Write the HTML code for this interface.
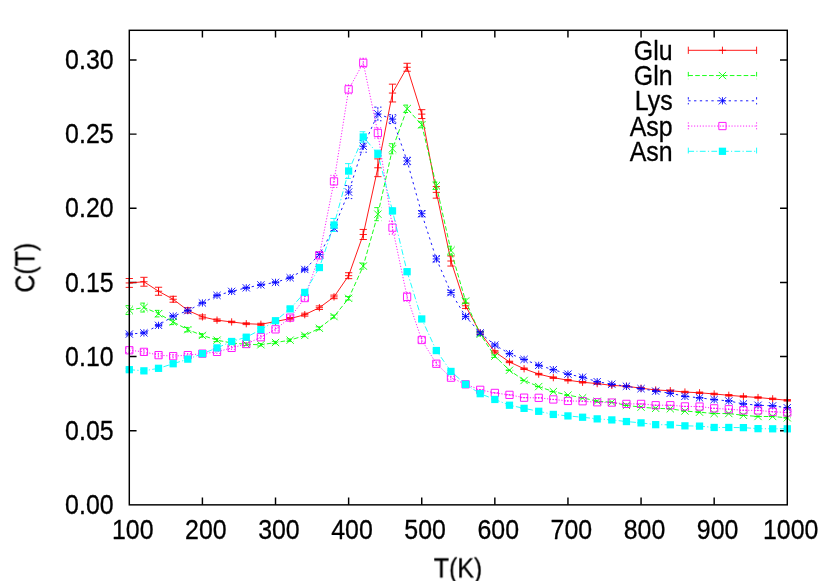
<!DOCTYPE html>
<html><head><meta charset="utf-8"><title>C(T)</title>
<style>html,body{margin:0;padding:0;background:#fff;}body{width:830px;height:581px;position:relative;overflow:hidden;font-family:"Liberation Sans",sans-serif;}</style>
</head><body>
<svg width="830" height="581" viewBox="0 0 830 581" style="display:block;position:absolute;left:0;top:0;will-change:transform">
<rect width="830" height="581" fill="#fff"/>
<g font-family="Liberation Sans, sans-serif" font-size="27" fill="#000" stroke="#000" stroke-width="0.3" stroke-linejoin="round" style="filter:grayscale(1)">
<text transform="translate(113.60 514.05) scale(0.923 1)" text-anchor="end">0.00</text>
<text transform="translate(113.60 439.90) scale(0.923 1)" text-anchor="end">0.05</text>
<text transform="translate(113.60 365.75) scale(0.923 1)" text-anchor="end">0.10</text>
<text transform="translate(113.60 291.60) scale(0.923 1)" text-anchor="end">0.15</text>
<text transform="translate(113.60 217.46) scale(0.923 1)" text-anchor="end">0.20</text>
<text transform="translate(113.60 143.31) scale(0.923 1)" text-anchor="end">0.25</text>
<text transform="translate(113.60 69.16) scale(0.923 1)" text-anchor="end">0.30</text>
<text transform="translate(132.70 539.20) scale(0.923 1)" text-anchor="middle">100</text>
<text transform="translate(205.81 539.20) scale(0.923 1)" text-anchor="middle">200</text>
<text transform="translate(278.92 539.20) scale(0.923 1)" text-anchor="middle">300</text>
<text transform="translate(352.03 539.20) scale(0.923 1)" text-anchor="middle">400</text>
<text transform="translate(425.14 539.20) scale(0.923 1)" text-anchor="middle">500</text>
<text transform="translate(498.24 539.20) scale(0.923 1)" text-anchor="middle">600</text>
<text transform="translate(571.35 539.20) scale(0.923 1)" text-anchor="middle">700</text>
<text transform="translate(644.46 539.20) scale(0.923 1)" text-anchor="middle">800</text>
<text transform="translate(717.57 539.20) scale(0.923 1)" text-anchor="middle">900</text>
<text transform="translate(790.68 539.20) scale(0.923 1)" text-anchor="middle">1000</text>
<text transform="translate(458.00 577.40) scale(0.923 1)" text-anchor="middle">T(K)</text>
<text transform="translate(34.40 267.70) rotate(-90) scale(0.923 1)" text-anchor="middle">C(T)</text>
<text transform="translate(672.60 59.60) scale(0.923 1)" text-anchor="end">Glu</text>
<text transform="translate(672.60 85.00) scale(0.923 1)" text-anchor="end">Gln</text>
<text transform="translate(672.60 110.40) scale(0.923 1)" text-anchor="end">Lys</text>
<text transform="translate(672.60 135.80) scale(0.923 1)" text-anchor="end">Asp</text>
<text transform="translate(672.60 161.20) scale(0.923 1)" text-anchor="end">Asn</text>
</g>
<path d="M129.3 430.70h7.26M787.28 430.70h-7.26M129.3 356.55h7.26M787.28 356.55h-7.26M129.3 282.40h7.26M787.28 282.40h-7.26M129.3 208.26h7.26M787.28 208.26h-7.26M129.3 134.11h7.26M787.28 134.11h-7.26M129.3 59.96h7.26M787.28 59.96h-7.26M202.41 504.85v-7.26M202.41 30.3v7.26M275.52 504.85v-7.26M275.52 30.3v7.26M348.63 504.85v-7.26M348.63 30.3v7.26M421.74 504.85v-7.26M421.74 30.3v7.26M494.84 504.85v-7.26M494.84 30.3v7.26M567.95 504.85v-7.26M567.95 30.3v7.26M641.06 504.85v-7.26M641.06 30.3v7.26M714.17 504.85v-7.26M714.17 30.3v7.26" stroke="#000" stroke-width="1.45" fill="none"/>
<path d="M688.3 50.30H756.6M688.3 46.67V53.93M756.6 46.67V53.93" fill="none" stroke="#ff0000" stroke-width="0.9"/>
<path d="M718.82 50.30H726.08M722.45 46.67V53.93" fill="none" stroke="#ff0000" stroke-width="0.9"/>
<path d="M688.3 75.55H756.6M688.3 71.92V79.18M756.6 71.92V79.18" fill="none" stroke="#00ff00" stroke-width="0.9" stroke-dasharray="4.61 2.31"/>
<path d="M718.82 71.92L726.08 79.18M718.82 79.18L726.08 71.92" fill="none" stroke="#00ff00" stroke-width="0.9"/>
<path d="M688.3 100.80H756.6M688.3 97.17V104.43M756.6 97.17V104.43" fill="none" stroke="#0000ff" stroke-width="0.9" stroke-dasharray="2.31 3.46"/>
<path d="M718.82 100.80H726.08M722.45 97.17V104.43M718.82 97.17L726.08 104.43M718.82 104.43L726.08 97.17" fill="none" stroke="#0000ff" stroke-width="0.9"/>
<path d="M688.3 126.05H756.6M688.3 122.42V129.68M756.6 122.42V129.68" fill="none" stroke="#ff00ff" stroke-width="0.9" stroke-dasharray="1.15 1.73"/>
<path d="M718.82 122.42H726.08V129.68H718.82ZM722.15 126.05h0.6" fill="none" stroke="#ff00ff" stroke-width="0.9"/>
<path d="M688.3 151.30H756.6M688.3 147.67V154.93M756.6 147.67V154.93" fill="none" stroke="#00ffff" stroke-width="0.9" stroke-dasharray="5.77 2.31 1.15 2.31"/>
<rect x="718.82" y="147.67" width="7.26" height="7.26" fill="#00ffff"/>
<g>
<polyline points="129.30,282.94 143.92,281.76 158.54,291.25 173.17,299.25 187.79,310.37 202.41,316.89 217.03,320.15 231.65,321.93 246.27,323.71 260.90,324.30 275.52,321.48 290.14,318.67 304.76,314.67 319.38,307.70 334.00,296.88 348.63,275.68 363.25,234.47 377.87,167.77 392.49,93.06 407.11,67.27 421.74,114.11 436.36,192.38 450.98,261.01 465.60,305.77 480.22,332.90 494.84,351.87 509.47,361.95 524.09,368.77 538.71,374.11 553.33,377.66 567.95,380.18 582.58,382.26 597.20,383.59 611.82,385.37 626.44,386.26 641.06,388.19 655.68,389.97 670.31,390.71 684.93,392.04 699.55,392.78 714.17,393.97 728.79,395.30 743.41,396.49 758.04,397.53 772.66,398.86 787.28,400.34" fill="none" stroke="#ff0000" stroke-width="0.9"/>
<path d="M129.30 278.50V287.39M125.67 278.50h7.26M125.67 287.39h7.26M143.92 277.31V286.21M140.29 277.31h7.26M140.29 286.21h7.26M158.54 287.24V295.25M154.91 287.24h7.26M154.91 295.25h7.26M173.17 296.29V302.21M169.54 296.29h7.26M169.54 302.21h7.26M187.79 307.70V313.04M184.16 307.70h7.26M184.16 313.04h7.26M202.41 314.96V318.82M198.78 314.96h7.26M198.78 318.82h7.26M217.03 318.96V321.34M213.40 318.96h7.26M213.40 321.34h7.26M231.65 321.19V322.67M228.02 321.19h7.26M228.02 322.67h7.26M246.27 322.82V324.60M242.64 322.82h7.26M242.64 324.60h7.26M260.90 323.26V325.34M257.27 323.26h7.26M257.27 325.34h7.26M275.52 320.45V322.52M271.89 320.45h7.26M271.89 322.52h7.26M290.14 317.48V319.85M286.51 317.48h7.26M286.51 319.85h7.26M304.76 313.18V316.15M301.13 313.18h7.26M301.13 316.15h7.26M319.38 305.92V309.48M315.75 305.92h7.26M315.75 309.48h7.26M334.00 295.10V298.66M330.37 295.10h7.26M330.37 298.66h7.26M348.63 272.72V278.65M345.00 272.72h7.26M345.00 278.65h7.26M363.25 229.43V239.51M359.62 229.43h7.26M359.62 239.51h7.26M377.87 158.88V176.66M374.24 158.88h7.26M374.24 176.66h7.26M392.49 84.17V101.96M388.86 84.17h7.26M388.86 101.96h7.26M407.11 63.27V71.27M403.48 63.27h7.26M403.48 71.27h7.26M421.74 109.66V118.56M418.11 109.66h7.26M418.11 118.56h7.26M436.36 186.59V198.16M432.73 186.59h7.26M432.73 198.16h7.26M450.98 255.97V266.05M447.35 255.97h7.26M447.35 266.05h7.26M465.60 303.10V308.44M461.97 303.10h7.26M461.97 308.44h7.26M480.22 331.42V334.38M476.59 331.42h7.26M476.59 334.38h7.26M494.84 350.69V353.06M491.21 350.69h7.26M491.21 353.06h7.26M509.47 361.21V362.69M505.84 361.21h7.26M505.84 362.69h7.26M524.09 368.03V369.51M520.46 368.03h7.26M520.46 369.51h7.26M538.71 373.36V374.85M535.08 373.36h7.26M535.08 374.85h7.26M553.33 376.92V378.40M549.70 376.92h7.26M549.70 378.40h7.26M567.95 379.44V380.92M564.32 379.44h7.26M564.32 380.92h7.26M582.58 381.52V383.00M578.95 381.52h7.26M578.95 383.00h7.26M597.20 382.85V384.33M593.57 382.85h7.26M593.57 384.33h7.26M611.82 384.63V386.11M608.19 384.63h7.26M608.19 386.11h7.26M626.44 385.52V387.00M622.81 385.52h7.26M622.81 387.00h7.26M641.06 387.45V388.93M637.43 387.45h7.26M637.43 388.93h7.26M655.68 389.23V390.71M652.05 389.23h7.26M652.05 390.71h7.26M670.31 389.97V391.45M666.68 389.97h7.26M666.68 391.45h7.26M684.93 391.30V392.78M681.30 391.30h7.26M681.30 392.78h7.26M699.55 392.04V393.52M695.92 392.04h7.26M695.92 393.52h7.26M714.17 393.23V394.71M710.54 393.23h7.26M710.54 394.71h7.26M728.79 394.56V396.04M725.16 394.56h7.26M725.16 396.04h7.26M743.41 395.75V397.23M739.78 395.75h7.26M739.78 397.23h7.26M758.04 396.79V398.27M754.41 396.79h7.26M754.41 398.27h7.26M772.66 398.12V399.60M769.03 398.12h7.26M769.03 399.60h7.26M787.28 399.60V401.08M783.65 399.60h7.26M783.65 401.08h7.26" fill="none" stroke="#ff0000" stroke-width="0.9"/>
<path d="M125.67 282.94H132.93M129.30 279.31V286.57" fill="none" stroke="#ff0000" stroke-width="0.9"/>
<path d="M140.29 281.76H147.55M143.92 278.13V285.39" fill="none" stroke="#ff0000" stroke-width="0.9"/>
<path d="M154.91 291.25H162.17M158.54 287.62V294.88" fill="none" stroke="#ff0000" stroke-width="0.9"/>
<path d="M169.54 299.25H176.80M173.17 295.62V302.88" fill="none" stroke="#ff0000" stroke-width="0.9"/>
<path d="M184.16 310.37H191.42M187.79 306.74V314.00" fill="none" stroke="#ff0000" stroke-width="0.9"/>
<path d="M198.78 316.89H206.04M202.41 313.26V320.52" fill="none" stroke="#ff0000" stroke-width="0.9"/>
<path d="M213.40 320.15H220.66M217.03 316.52V323.78" fill="none" stroke="#ff0000" stroke-width="0.9"/>
<path d="M228.02 321.93H235.28M231.65 318.30V325.56" fill="none" stroke="#ff0000" stroke-width="0.9"/>
<path d="M242.64 323.71H249.90M246.27 320.08V327.34" fill="none" stroke="#ff0000" stroke-width="0.9"/>
<path d="M257.27 324.30H264.53M260.90 320.67V327.93" fill="none" stroke="#ff0000" stroke-width="0.9"/>
<path d="M271.89 321.48H279.15M275.52 317.85V325.11" fill="none" stroke="#ff0000" stroke-width="0.9"/>
<path d="M286.51 318.67H293.77M290.14 315.04V322.30" fill="none" stroke="#ff0000" stroke-width="0.9"/>
<path d="M301.13 314.67H308.39M304.76 311.04V318.30" fill="none" stroke="#ff0000" stroke-width="0.9"/>
<path d="M315.75 307.70H323.01M319.38 304.07V311.33" fill="none" stroke="#ff0000" stroke-width="0.9"/>
<path d="M330.37 296.88H337.63M334.00 293.25V300.51" fill="none" stroke="#ff0000" stroke-width="0.9"/>
<path d="M345.00 275.68H352.26M348.63 272.05V279.31" fill="none" stroke="#ff0000" stroke-width="0.9"/>
<path d="M359.62 234.47H366.88M363.25 230.84V238.10" fill="none" stroke="#ff0000" stroke-width="0.9"/>
<path d="M374.24 167.77H381.50M377.87 164.14V171.40" fill="none" stroke="#ff0000" stroke-width="0.9"/>
<path d="M388.86 93.06H396.12M392.49 89.43V96.69" fill="none" stroke="#ff0000" stroke-width="0.9"/>
<path d="M403.48 67.27H410.74M407.11 63.64V70.90" fill="none" stroke="#ff0000" stroke-width="0.9"/>
<path d="M418.11 114.11H425.37M421.74 110.48V117.74" fill="none" stroke="#ff0000" stroke-width="0.9"/>
<path d="M432.73 192.38H439.99M436.36 188.75V196.01" fill="none" stroke="#ff0000" stroke-width="0.9"/>
<path d="M447.35 261.01H454.61M450.98 257.38V264.64" fill="none" stroke="#ff0000" stroke-width="0.9"/>
<path d="M461.97 305.77H469.23M465.60 302.14V309.40" fill="none" stroke="#ff0000" stroke-width="0.9"/>
<path d="M476.59 332.90H483.85M480.22 329.27V336.53" fill="none" stroke="#ff0000" stroke-width="0.9"/>
<path d="M491.21 351.87H498.47M494.84 348.24V355.50" fill="none" stroke="#ff0000" stroke-width="0.9"/>
<path d="M505.84 361.95H513.10M509.47 358.32V365.58" fill="none" stroke="#ff0000" stroke-width="0.9"/>
<path d="M520.46 368.77H527.72M524.09 365.14V372.40" fill="none" stroke="#ff0000" stroke-width="0.9"/>
<path d="M535.08 374.11H542.34M538.71 370.48V377.74" fill="none" stroke="#ff0000" stroke-width="0.9"/>
<path d="M549.70 377.66H556.96M553.33 374.03V381.29" fill="none" stroke="#ff0000" stroke-width="0.9"/>
<path d="M564.32 380.18H571.58M567.95 376.55V383.81" fill="none" stroke="#ff0000" stroke-width="0.9"/>
<path d="M578.95 382.26H586.21M582.58 378.63V385.89" fill="none" stroke="#ff0000" stroke-width="0.9"/>
<path d="M593.57 383.59H600.83M597.20 379.96V387.22" fill="none" stroke="#ff0000" stroke-width="0.9"/>
<path d="M608.19 385.37H615.45M611.82 381.74V389.00" fill="none" stroke="#ff0000" stroke-width="0.9"/>
<path d="M622.81 386.26H630.07M626.44 382.63V389.89" fill="none" stroke="#ff0000" stroke-width="0.9"/>
<path d="M637.43 388.19H644.69M641.06 384.56V391.82" fill="none" stroke="#ff0000" stroke-width="0.9"/>
<path d="M652.05 389.97H659.31M655.68 386.34V393.60" fill="none" stroke="#ff0000" stroke-width="0.9"/>
<path d="M666.68 390.71H673.94M670.31 387.08V394.34" fill="none" stroke="#ff0000" stroke-width="0.9"/>
<path d="M681.30 392.04H688.56M684.93 388.41V395.67" fill="none" stroke="#ff0000" stroke-width="0.9"/>
<path d="M695.92 392.78H703.18M699.55 389.15V396.41" fill="none" stroke="#ff0000" stroke-width="0.9"/>
<path d="M710.54 393.97H717.80M714.17 390.34V397.60" fill="none" stroke="#ff0000" stroke-width="0.9"/>
<path d="M725.16 395.30H732.42M728.79 391.67V398.93" fill="none" stroke="#ff0000" stroke-width="0.9"/>
<path d="M739.78 396.49H747.04M743.41 392.86V400.12" fill="none" stroke="#ff0000" stroke-width="0.9"/>
<path d="M754.41 397.53H761.67M758.04 393.90V401.16" fill="none" stroke="#ff0000" stroke-width="0.9"/>
<path d="M769.03 398.86H776.29M772.66 395.23V402.49" fill="none" stroke="#ff0000" stroke-width="0.9"/>
<path d="M783.65 400.34H790.91M787.28 396.71V403.97" fill="none" stroke="#ff0000" stroke-width="0.9"/>
</g>
<g>
<polyline points="129.30,310.07 143.92,307.55 158.54,313.63 173.17,321.93 187.79,329.64 202.41,335.42 217.03,340.16 231.65,342.98 246.27,344.31 260.90,344.76 275.52,342.53 290.14,340.16 304.76,335.42 319.38,328.30 334.00,316.59 348.63,298.36 363.25,266.05 377.87,214.17 392.49,148.80 407.11,108.77 421.74,124.78 436.36,185.71 450.98,250.63 465.60,301.03 480.22,334.23 494.84,356.17 509.47,370.25 524.09,380.48 538.71,386.56 553.33,391.60 567.95,395.15 582.58,397.82 597.20,401.23 611.82,402.27 626.44,405.38 641.06,407.16 655.68,408.35 670.31,408.79 684.93,411.02 699.55,412.20 714.17,413.54 728.79,413.54 743.41,415.31 758.04,416.50 772.66,416.50 787.28,417.83" fill="none" stroke="#00ff00" stroke-width="0.9" stroke-dasharray="4.61 2.31"/>
<path d="M129.30 305.62V314.52M125.67 305.62h7.26M125.67 314.52h7.26M143.92 303.10V312.00M140.29 303.10h7.26M140.29 312.00h7.26M158.54 310.37V316.89M154.91 310.37h7.26M154.91 316.89h7.26M173.17 319.26V324.60M169.54 319.26h7.26M169.54 324.60h7.26M187.79 327.41V331.86M184.16 327.41h7.26M184.16 331.86h7.26M202.41 333.64V337.20M198.78 333.64h7.26M198.78 337.20h7.26M217.03 338.68V341.64M213.40 338.68h7.26M213.40 341.64h7.26M231.65 341.79V344.16M228.02 341.79h7.26M228.02 344.16h7.26M246.27 343.13V345.50M242.64 343.13h7.26M242.64 345.50h7.26M260.90 343.57V345.94M257.27 343.57h7.26M257.27 345.94h7.26M275.52 341.35V343.72M271.89 341.35h7.26M271.89 343.72h7.26M290.14 338.98V341.35M286.51 338.98h7.26M286.51 341.35h7.26M304.76 334.23V336.60M301.13 334.23h7.26M301.13 336.60h7.26M319.38 326.82V329.79M315.75 326.82h7.26M315.75 329.79h7.26M334.00 315.11V318.07M330.37 315.11h7.26M330.37 318.07h7.26M348.63 296.58V300.14M345.00 296.58h7.26M345.00 300.14h7.26M363.25 263.08V269.01M359.62 263.08h7.26M359.62 269.01h7.26M377.87 207.64V220.69M374.24 207.64h7.26M374.24 220.69h7.26M392.49 143.76V153.84M388.86 143.76h7.26M388.86 153.84h7.26M407.11 105.07V112.48M403.48 105.07h7.26M403.48 112.48h7.26M421.74 121.82V127.75M418.11 121.82h7.26M418.11 127.75h7.26M436.36 182.00V189.41M432.73 182.00h7.26M432.73 189.41h7.26M450.98 246.18V255.08M447.35 246.18h7.26M447.35 255.08h7.26M465.60 298.80V303.25M461.97 298.80h7.26M461.97 303.25h7.26M480.22 332.75V335.71M476.59 332.75h7.26M476.59 335.71h7.26M494.84 354.98V357.36M491.21 354.98h7.26M491.21 357.36h7.26M509.47 370.10V370.40M505.84 370.10h7.26M505.84 370.40h7.26M524.09 380.33V380.63M520.46 380.33h7.26M520.46 380.63h7.26M538.71 386.41V386.71M535.08 386.41h7.26M535.08 386.71h7.26M553.33 391.45V391.75M549.70 391.45h7.26M549.70 391.75h7.26M567.95 395.01V395.30M564.32 395.01h7.26M564.32 395.30h7.26M582.58 397.67V397.97M578.95 397.67h7.26M578.95 397.97h7.26M597.20 401.08V401.38M593.57 401.08h7.26M593.57 401.38h7.26M611.82 402.12V402.42M608.19 402.12h7.26M608.19 402.42h7.26M626.44 405.23V405.53M622.81 405.23h7.26M622.81 405.53h7.26M641.06 407.01V407.31M637.43 407.01h7.26M637.43 407.31h7.26M655.68 408.20V408.50M652.05 408.20h7.26M652.05 408.50h7.26M670.31 408.64V408.94M666.68 408.64h7.26M666.68 408.94h7.26M684.93 410.87V411.16M681.30 410.87h7.26M681.30 411.16h7.26M699.55 412.05V412.35M695.92 412.05h7.26M695.92 412.35h7.26M714.17 413.39V413.68M710.54 413.39h7.26M710.54 413.68h7.26M728.79 413.39V413.68M725.16 413.39h7.26M725.16 413.68h7.26M743.41 415.17V415.46M739.78 415.17h7.26M739.78 415.46h7.26M758.04 416.35V416.65M754.41 416.35h7.26M754.41 416.65h7.26M772.66 416.35V416.65M769.03 416.35h7.26M769.03 416.65h7.26M787.28 417.69V417.98M783.65 417.69h7.26M783.65 417.98h7.26" fill="none" stroke="#00ff00" stroke-width="0.9" stroke-dasharray="4.61 2.31"/>
<path d="M125.67 306.44L132.93 313.70M125.67 313.70L132.93 306.44" fill="none" stroke="#00ff00" stroke-width="0.9"/>
<path d="M140.29 303.92L147.55 311.18M140.29 311.18L147.55 303.92" fill="none" stroke="#00ff00" stroke-width="0.9"/>
<path d="M154.91 310.00L162.17 317.26M154.91 317.26L162.17 310.00" fill="none" stroke="#00ff00" stroke-width="0.9"/>
<path d="M169.54 318.30L176.80 325.56M169.54 325.56L176.80 318.30" fill="none" stroke="#00ff00" stroke-width="0.9"/>
<path d="M184.16 326.01L191.42 333.27M184.16 333.27L191.42 326.01" fill="none" stroke="#00ff00" stroke-width="0.9"/>
<path d="M198.78 331.79L206.04 339.05M198.78 339.05L206.04 331.79" fill="none" stroke="#00ff00" stroke-width="0.9"/>
<path d="M213.40 336.53L220.66 343.79M213.40 343.79L220.66 336.53" fill="none" stroke="#00ff00" stroke-width="0.9"/>
<path d="M228.02 339.35L235.28 346.61M228.02 346.61L235.28 339.35" fill="none" stroke="#00ff00" stroke-width="0.9"/>
<path d="M242.64 340.68L249.90 347.94M242.64 347.94L249.90 340.68" fill="none" stroke="#00ff00" stroke-width="0.9"/>
<path d="M257.27 341.13L264.53 348.39M257.27 348.39L264.53 341.13" fill="none" stroke="#00ff00" stroke-width="0.9"/>
<path d="M271.89 338.90L279.15 346.16M271.89 346.16L279.15 338.90" fill="none" stroke="#00ff00" stroke-width="0.9"/>
<path d="M286.51 336.53L293.77 343.79M286.51 343.79L293.77 336.53" fill="none" stroke="#00ff00" stroke-width="0.9"/>
<path d="M301.13 331.79L308.39 339.05M301.13 339.05L308.39 331.79" fill="none" stroke="#00ff00" stroke-width="0.9"/>
<path d="M315.75 324.67L323.01 331.93M315.75 331.93L323.01 324.67" fill="none" stroke="#00ff00" stroke-width="0.9"/>
<path d="M330.37 312.96L337.63 320.22M330.37 320.22L337.63 312.96" fill="none" stroke="#00ff00" stroke-width="0.9"/>
<path d="M345.00 294.73L352.26 301.99M345.00 301.99L352.26 294.73" fill="none" stroke="#00ff00" stroke-width="0.9"/>
<path d="M359.62 262.42L366.88 269.68M359.62 269.68L366.88 262.42" fill="none" stroke="#00ff00" stroke-width="0.9"/>
<path d="M374.24 210.54L381.50 217.80M374.24 217.80L381.50 210.54" fill="none" stroke="#00ff00" stroke-width="0.9"/>
<path d="M388.86 145.17L396.12 152.43M388.86 152.43L396.12 145.17" fill="none" stroke="#00ff00" stroke-width="0.9"/>
<path d="M403.48 105.14L410.74 112.40M403.48 112.40L410.74 105.14" fill="none" stroke="#00ff00" stroke-width="0.9"/>
<path d="M418.11 121.15L425.37 128.41M418.11 128.41L425.37 121.15" fill="none" stroke="#00ff00" stroke-width="0.9"/>
<path d="M432.73 182.08L439.99 189.34M432.73 189.34L439.99 182.08" fill="none" stroke="#00ff00" stroke-width="0.9"/>
<path d="M447.35 247.00L454.61 254.26M447.35 254.26L454.61 247.00" fill="none" stroke="#00ff00" stroke-width="0.9"/>
<path d="M461.97 297.40L469.23 304.66M461.97 304.66L469.23 297.40" fill="none" stroke="#00ff00" stroke-width="0.9"/>
<path d="M476.59 330.60L483.85 337.86M476.59 337.86L483.85 330.60" fill="none" stroke="#00ff00" stroke-width="0.9"/>
<path d="M491.21 352.54L498.47 359.80M491.21 359.80L498.47 352.54" fill="none" stroke="#00ff00" stroke-width="0.9"/>
<path d="M505.84 366.62L513.10 373.88M505.84 373.88L513.10 366.62" fill="none" stroke="#00ff00" stroke-width="0.9"/>
<path d="M520.46 376.85L527.72 384.11M520.46 384.11L527.72 376.85" fill="none" stroke="#00ff00" stroke-width="0.9"/>
<path d="M535.08 382.93L542.34 390.19M535.08 390.19L542.34 382.93" fill="none" stroke="#00ff00" stroke-width="0.9"/>
<path d="M549.70 387.97L556.96 395.23M549.70 395.23L556.96 387.97" fill="none" stroke="#00ff00" stroke-width="0.9"/>
<path d="M564.32 391.52L571.58 398.78M564.32 398.78L571.58 391.52" fill="none" stroke="#00ff00" stroke-width="0.9"/>
<path d="M578.95 394.19L586.21 401.45M578.95 401.45L586.21 394.19" fill="none" stroke="#00ff00" stroke-width="0.9"/>
<path d="M593.57 397.60L600.83 404.86M593.57 404.86L600.83 397.60" fill="none" stroke="#00ff00" stroke-width="0.9"/>
<path d="M608.19 398.64L615.45 405.90M608.19 405.90L615.45 398.64" fill="none" stroke="#00ff00" stroke-width="0.9"/>
<path d="M622.81 401.75L630.07 409.01M622.81 409.01L630.07 401.75" fill="none" stroke="#00ff00" stroke-width="0.9"/>
<path d="M637.43 403.53L644.69 410.79M637.43 410.79L644.69 403.53" fill="none" stroke="#00ff00" stroke-width="0.9"/>
<path d="M652.05 404.72L659.31 411.98M652.05 411.98L659.31 404.72" fill="none" stroke="#00ff00" stroke-width="0.9"/>
<path d="M666.68 405.16L673.94 412.42M666.68 412.42L673.94 405.16" fill="none" stroke="#00ff00" stroke-width="0.9"/>
<path d="M681.30 407.39L688.56 414.65M681.30 414.65L688.56 407.39" fill="none" stroke="#00ff00" stroke-width="0.9"/>
<path d="M695.92 408.57L703.18 415.83M695.92 415.83L703.18 408.57" fill="none" stroke="#00ff00" stroke-width="0.9"/>
<path d="M710.54 409.91L717.80 417.17M710.54 417.17L717.80 409.91" fill="none" stroke="#00ff00" stroke-width="0.9"/>
<path d="M725.16 409.91L732.42 417.17M725.16 417.17L732.42 409.91" fill="none" stroke="#00ff00" stroke-width="0.9"/>
<path d="M739.78 411.68L747.04 418.94M739.78 418.94L747.04 411.68" fill="none" stroke="#00ff00" stroke-width="0.9"/>
<path d="M754.41 412.87L761.67 420.13M754.41 420.13L761.67 412.87" fill="none" stroke="#00ff00" stroke-width="0.9"/>
<path d="M769.03 412.87L776.29 420.13M769.03 420.13L776.29 412.87" fill="none" stroke="#00ff00" stroke-width="0.9"/>
<path d="M783.65 414.20L790.91 421.46M783.65 421.46L790.91 414.20" fill="none" stroke="#00ff00" stroke-width="0.9"/>
</g>
<g>
<polyline points="129.30,334.08 143.92,332.90 158.54,325.34 173.17,316.15 187.79,310.66 202.41,302.96 217.03,295.40 231.65,291.39 246.27,287.84 260.90,284.87 275.52,282.35 290.14,277.76 304.76,269.46 319.38,254.63 334.00,228.10 348.63,192.08 363.25,146.28 377.87,113.96 392.49,119.15 407.11,160.95 421.74,213.72 436.36,258.93 450.98,292.58 465.60,316.44 480.22,332.90 494.84,345.05 509.47,353.65 524.09,359.43 538.71,365.36 553.33,369.66 567.95,374.11 582.58,377.22 597.20,381.67 611.82,384.19 626.44,386.26 641.06,388.63 655.68,391.15 670.31,393.23 684.93,396.34 699.55,397.82 714.17,399.60 728.79,400.94 743.41,403.90 758.04,405.23 772.66,405.83 787.28,407.75" fill="none" stroke="#0000ff" stroke-width="0.9" stroke-dasharray="2.31 3.46"/>
<path d="M129.30 333.19V334.97M125.67 333.19h7.26M125.67 334.97h7.26M143.92 332.01V333.79M140.29 332.01h7.26M140.29 333.79h7.26M158.54 324.60V326.08M154.91 324.60h7.26M154.91 326.08h7.26M173.17 315.41V316.89M169.54 315.41h7.26M169.54 316.89h7.26M187.79 310.07V311.26M184.16 310.07h7.26M184.16 311.26h7.26M202.41 302.36V303.55M198.78 302.36h7.26M198.78 303.55h7.26M217.03 294.80V295.99M213.40 294.80h7.26M213.40 295.99h7.26M231.65 290.80V291.99M228.02 290.80h7.26M228.02 291.99h7.26M246.27 287.24V288.43M242.64 287.24h7.26M242.64 288.43h7.26M260.90 284.28V285.46M257.27 284.28h7.26M257.27 285.46h7.26M275.52 281.76V282.94M271.89 281.76h7.26M271.89 282.94h7.26M290.14 277.02V278.50M286.51 277.02h7.26M286.51 278.50h7.26M304.76 268.27V270.64M301.13 268.27h7.26M301.13 270.64h7.26M319.38 252.41V256.86M315.75 252.41h7.26M315.75 256.86h7.26M334.00 225.13V231.06M330.37 225.13h7.26M330.37 231.06h7.26M348.63 185.56V198.60M345.00 185.56h7.26M345.00 198.60h7.26M363.25 140.35V152.21M359.62 140.35h7.26M359.62 152.21h7.26M377.87 107.14V120.78M374.24 107.14h7.26M374.24 120.78h7.26M392.49 114.70V123.60M388.86 114.70h7.26M388.86 123.60h7.26M407.11 157.25V164.66M403.48 157.25h7.26M403.48 164.66h7.26M421.74 210.76V216.69M418.11 210.76h7.26M418.11 216.69h7.26M436.36 255.97V261.90M432.73 255.97h7.26M432.73 261.90h7.26M450.98 290.36V294.80M447.35 290.36h7.26M447.35 294.80h7.26M465.60 314.67V318.22M461.97 314.67h7.26M461.97 318.22h7.26M480.22 331.42V334.38M476.59 331.42h7.26M476.59 334.38h7.26M494.84 343.87V346.24M491.21 343.87h7.26M491.21 346.24h7.26M509.47 353.35V353.95M505.84 353.35h7.26M505.84 353.95h7.26M524.09 359.13V359.73M520.46 359.13h7.26M520.46 359.73h7.26M538.71 365.06V365.66M535.08 365.06h7.26M535.08 365.66h7.26M553.33 369.36V369.96M549.70 369.36h7.26M549.70 369.96h7.26M567.95 373.81V374.40M564.32 373.81h7.26M564.32 374.40h7.26M582.58 376.92V377.52M578.95 376.92h7.26M578.95 377.52h7.26M597.20 381.37V381.96M593.57 381.37h7.26M593.57 381.96h7.26M611.82 383.89V384.48M608.19 383.89h7.26M608.19 384.48h7.26M626.44 385.96V386.56M622.81 385.96h7.26M622.81 386.56h7.26M641.06 388.34V388.93M637.43 388.34h7.26M637.43 388.93h7.26M655.68 390.86V391.45M652.05 390.86h7.26M652.05 391.45h7.26M670.31 392.93V393.52M666.68 392.93h7.26M666.68 393.52h7.26M684.93 396.04V396.64M681.30 396.04h7.26M681.30 396.64h7.26M699.55 397.53V398.12M695.92 397.53h7.26M695.92 398.12h7.26M714.17 399.30V399.90M710.54 399.30h7.26M710.54 399.90h7.26M728.79 400.64V401.23M725.16 400.64h7.26M725.16 401.23h7.26M743.41 403.60V404.20M739.78 403.60h7.26M739.78 404.20h7.26M758.04 404.94V405.53M754.41 404.94h7.26M754.41 405.53h7.26M772.66 405.53V406.12M769.03 405.53h7.26M769.03 406.12h7.26M787.28 407.46V408.05M783.65 407.46h7.26M783.65 408.05h7.26" fill="none" stroke="#0000ff" stroke-width="0.9" stroke-dasharray="2.31 3.46"/>
<path d="M125.67 334.08H132.93M129.30 330.45V337.71M125.67 330.45L132.93 337.71M125.67 337.71L132.93 330.45" fill="none" stroke="#0000ff" stroke-width="0.9"/>
<path d="M140.29 332.90H147.55M143.92 329.27V336.53M140.29 329.27L147.55 336.53M140.29 336.53L147.55 329.27" fill="none" stroke="#0000ff" stroke-width="0.9"/>
<path d="M154.91 325.34H162.17M158.54 321.71V328.97M154.91 321.71L162.17 328.97M154.91 328.97L162.17 321.71" fill="none" stroke="#0000ff" stroke-width="0.9"/>
<path d="M169.54 316.15H176.80M173.17 312.52V319.78M169.54 312.52L176.80 319.78M169.54 319.78L176.80 312.52" fill="none" stroke="#0000ff" stroke-width="0.9"/>
<path d="M184.16 310.66H191.42M187.79 307.03V314.29M184.16 307.03L191.42 314.29M184.16 314.29L191.42 307.03" fill="none" stroke="#0000ff" stroke-width="0.9"/>
<path d="M198.78 302.96H206.04M202.41 299.33V306.59M198.78 299.33L206.04 306.59M198.78 306.59L206.04 299.33" fill="none" stroke="#0000ff" stroke-width="0.9"/>
<path d="M213.40 295.40H220.66M217.03 291.77V299.03M213.40 291.77L220.66 299.03M213.40 299.03L220.66 291.77" fill="none" stroke="#0000ff" stroke-width="0.9"/>
<path d="M228.02 291.39H235.28M231.65 287.76V295.02M228.02 287.76L235.28 295.02M228.02 295.02L235.28 287.76" fill="none" stroke="#0000ff" stroke-width="0.9"/>
<path d="M242.64 287.84H249.90M246.27 284.21V291.47M242.64 284.21L249.90 291.47M242.64 291.47L249.90 284.21" fill="none" stroke="#0000ff" stroke-width="0.9"/>
<path d="M257.27 284.87H264.53M260.90 281.24V288.50M257.27 281.24L264.53 288.50M257.27 288.50L264.53 281.24" fill="none" stroke="#0000ff" stroke-width="0.9"/>
<path d="M271.89 282.35H279.15M275.52 278.72V285.98M271.89 278.72L279.15 285.98M271.89 285.98L279.15 278.72" fill="none" stroke="#0000ff" stroke-width="0.9"/>
<path d="M286.51 277.76H293.77M290.14 274.13V281.39M286.51 274.13L293.77 281.39M286.51 281.39L293.77 274.13" fill="none" stroke="#0000ff" stroke-width="0.9"/>
<path d="M301.13 269.46H308.39M304.76 265.83V273.09M301.13 265.83L308.39 273.09M301.13 273.09L308.39 265.83" fill="none" stroke="#0000ff" stroke-width="0.9"/>
<path d="M315.75 254.63H323.01M319.38 251.00V258.26M315.75 251.00L323.01 258.26M315.75 258.26L323.01 251.00" fill="none" stroke="#0000ff" stroke-width="0.9"/>
<path d="M330.37 228.10H337.63M334.00 224.47V231.73M330.37 224.47L337.63 231.73M330.37 231.73L337.63 224.47" fill="none" stroke="#0000ff" stroke-width="0.9"/>
<path d="M345.00 192.08H352.26M348.63 188.45V195.71M345.00 188.45L352.26 195.71M345.00 195.71L352.26 188.45" fill="none" stroke="#0000ff" stroke-width="0.9"/>
<path d="M359.62 146.28H366.88M363.25 142.65V149.91M359.62 142.65L366.88 149.91M359.62 149.91L366.88 142.65" fill="none" stroke="#0000ff" stroke-width="0.9"/>
<path d="M374.24 113.96H381.50M377.87 110.33V117.59M374.24 110.33L381.50 117.59M374.24 117.59L381.50 110.33" fill="none" stroke="#0000ff" stroke-width="0.9"/>
<path d="M388.86 119.15H396.12M392.49 115.52V122.78M388.86 115.52L396.12 122.78M388.86 122.78L396.12 115.52" fill="none" stroke="#0000ff" stroke-width="0.9"/>
<path d="M403.48 160.95H410.74M407.11 157.32V164.58M403.48 157.32L410.74 164.58M403.48 164.58L410.74 157.32" fill="none" stroke="#0000ff" stroke-width="0.9"/>
<path d="M418.11 213.72H425.37M421.74 210.09V217.35M418.11 210.09L425.37 217.35M418.11 217.35L425.37 210.09" fill="none" stroke="#0000ff" stroke-width="0.9"/>
<path d="M432.73 258.93H439.99M436.36 255.30V262.56M432.73 255.30L439.99 262.56M432.73 262.56L439.99 255.30" fill="none" stroke="#0000ff" stroke-width="0.9"/>
<path d="M447.35 292.58H454.61M450.98 288.95V296.21M447.35 288.95L454.61 296.21M447.35 296.21L454.61 288.95" fill="none" stroke="#0000ff" stroke-width="0.9"/>
<path d="M461.97 316.44H469.23M465.60 312.81V320.07M461.97 312.81L469.23 320.07M461.97 320.07L469.23 312.81" fill="none" stroke="#0000ff" stroke-width="0.9"/>
<path d="M476.59 332.90H483.85M480.22 329.27V336.53M476.59 329.27L483.85 336.53M476.59 336.53L483.85 329.27" fill="none" stroke="#0000ff" stroke-width="0.9"/>
<path d="M491.21 345.05H498.47M494.84 341.42V348.68M491.21 341.42L498.47 348.68M491.21 348.68L498.47 341.42" fill="none" stroke="#0000ff" stroke-width="0.9"/>
<path d="M505.84 353.65H513.10M509.47 350.02V357.28M505.84 350.02L513.10 357.28M505.84 357.28L513.10 350.02" fill="none" stroke="#0000ff" stroke-width="0.9"/>
<path d="M520.46 359.43H527.72M524.09 355.80V363.06M520.46 355.80L527.72 363.06M520.46 363.06L527.72 355.80" fill="none" stroke="#0000ff" stroke-width="0.9"/>
<path d="M535.08 365.36H542.34M538.71 361.73V368.99M535.08 361.73L542.34 368.99M535.08 368.99L542.34 361.73" fill="none" stroke="#0000ff" stroke-width="0.9"/>
<path d="M549.70 369.66H556.96M553.33 366.03V373.29M549.70 366.03L556.96 373.29M549.70 373.29L556.96 366.03" fill="none" stroke="#0000ff" stroke-width="0.9"/>
<path d="M564.32 374.11H571.58M567.95 370.48V377.74M564.32 370.48L571.58 377.74M564.32 377.74L571.58 370.48" fill="none" stroke="#0000ff" stroke-width="0.9"/>
<path d="M578.95 377.22H586.21M582.58 373.59V380.85M578.95 373.59L586.21 380.85M578.95 380.85L586.21 373.59" fill="none" stroke="#0000ff" stroke-width="0.9"/>
<path d="M593.57 381.67H600.83M597.20 378.04V385.30M593.57 378.04L600.83 385.30M593.57 385.30L600.83 378.04" fill="none" stroke="#0000ff" stroke-width="0.9"/>
<path d="M608.19 384.19H615.45M611.82 380.56V387.82M608.19 380.56L615.45 387.82M608.19 387.82L615.45 380.56" fill="none" stroke="#0000ff" stroke-width="0.9"/>
<path d="M622.81 386.26H630.07M626.44 382.63V389.89M622.81 382.63L630.07 389.89M622.81 389.89L630.07 382.63" fill="none" stroke="#0000ff" stroke-width="0.9"/>
<path d="M637.43 388.63H644.69M641.06 385.00V392.26M637.43 385.00L644.69 392.26M637.43 392.26L644.69 385.00" fill="none" stroke="#0000ff" stroke-width="0.9"/>
<path d="M652.05 391.15H659.31M655.68 387.52V394.78M652.05 387.52L659.31 394.78M652.05 394.78L659.31 387.52" fill="none" stroke="#0000ff" stroke-width="0.9"/>
<path d="M666.68 393.23H673.94M670.31 389.60V396.86M666.68 389.60L673.94 396.86M666.68 396.86L673.94 389.60" fill="none" stroke="#0000ff" stroke-width="0.9"/>
<path d="M681.30 396.34H688.56M684.93 392.71V399.97M681.30 392.71L688.56 399.97M681.30 399.97L688.56 392.71" fill="none" stroke="#0000ff" stroke-width="0.9"/>
<path d="M695.92 397.82H703.18M699.55 394.19V401.45M695.92 394.19L703.18 401.45M695.92 401.45L703.18 394.19" fill="none" stroke="#0000ff" stroke-width="0.9"/>
<path d="M710.54 399.60H717.80M714.17 395.97V403.23M710.54 395.97L717.80 403.23M710.54 403.23L717.80 395.97" fill="none" stroke="#0000ff" stroke-width="0.9"/>
<path d="M725.16 400.94H732.42M728.79 397.31V404.57M725.16 397.31L732.42 404.57M725.16 404.57L732.42 397.31" fill="none" stroke="#0000ff" stroke-width="0.9"/>
<path d="M739.78 403.90H747.04M743.41 400.27V407.53M739.78 400.27L747.04 407.53M739.78 407.53L747.04 400.27" fill="none" stroke="#0000ff" stroke-width="0.9"/>
<path d="M754.41 405.23H761.67M758.04 401.60V408.86M754.41 401.60L761.67 408.86M754.41 408.86L761.67 401.60" fill="none" stroke="#0000ff" stroke-width="0.9"/>
<path d="M769.03 405.83H776.29M772.66 402.20V409.46M769.03 402.20L776.29 409.46M769.03 409.46L776.29 402.20" fill="none" stroke="#0000ff" stroke-width="0.9"/>
<path d="M783.65 407.75H790.91M787.28 404.12V411.38M783.65 404.12L790.91 411.38M783.65 411.38L790.91 404.12" fill="none" stroke="#0000ff" stroke-width="0.9"/>
</g>
<g>
<polyline points="129.30,350.24 143.92,351.87 158.54,355.13 173.17,356.17 187.79,355.13 202.41,353.65 217.03,351.87 231.65,347.87 246.27,344.02 260.90,337.20 275.52,329.34 290.14,317.63 304.76,298.06 319.38,255.37 334.00,181.41 348.63,89.36 363.25,62.82 377.87,132.94 392.49,227.65 407.11,296.88 421.74,340.01 436.36,363.73 450.98,377.66 465.60,384.33 480.22,389.82 494.84,392.93 509.47,394.86 524.09,397.67 538.71,397.82 553.33,399.45 567.95,400.94 582.58,401.23 597.20,402.27 611.82,402.57 626.44,403.90 641.06,403.90 655.68,405.23 670.31,405.23 684.93,406.42 699.55,406.57 714.17,408.35 728.79,409.24 743.41,410.27 758.04,410.42 772.66,411.76 787.28,412.50" fill="none" stroke="#ff00ff" stroke-width="0.9" stroke-dasharray="1.15 1.73"/>
<path d="M129.30 348.02V352.46M125.67 348.02h7.26M125.67 352.46h7.26M143.92 349.65V354.09M140.29 349.65h7.26M140.29 354.09h7.26M158.54 353.35V356.91M154.91 353.35h7.26M154.91 356.91h7.26M173.17 354.39V357.95M169.54 354.39h7.26M169.54 357.95h7.26M187.79 353.65V356.61M184.16 353.65h7.26M184.16 356.61h7.26M202.41 352.17V355.13M198.78 352.17h7.26M198.78 355.13h7.26M217.03 350.39V353.35M213.40 350.39h7.26M213.40 353.35h7.26M231.65 346.39V349.35M228.02 346.39h7.26M228.02 349.35h7.26M246.27 342.53V345.50M242.64 342.53h7.26M242.64 345.50h7.26M260.90 335.71V338.68M257.27 335.71h7.26M257.27 338.68h7.26M275.52 327.86V330.82M271.89 327.86h7.26M271.89 330.82h7.26M290.14 315.85V319.41M286.51 315.85h7.26M286.51 319.41h7.26M304.76 295.84V300.29M301.13 295.84h7.26M301.13 300.29h7.26M319.38 252.41V258.34M315.75 252.41h7.26M315.75 258.34h7.26M334.00 175.33V187.48M330.37 175.33h7.26M330.37 187.48h7.26M348.63 84.91V93.80M345.00 84.91h7.26M345.00 93.80h7.26M363.25 58.23V67.42M359.62 58.23h7.26M359.62 67.42h7.26M377.87 127.75V138.12M374.24 127.75h7.26M374.24 138.12h7.26M392.49 221.13V234.18M388.86 221.13h7.26M388.86 234.18h7.26M407.11 292.43V301.32M403.48 292.43h7.26M403.48 301.32h7.26M421.74 337.79V342.24M418.11 337.79h7.26M418.11 342.24h7.26M436.36 361.95V365.51M432.73 361.95h7.26M432.73 365.51h7.26M450.98 376.18V379.15M447.35 376.18h7.26M447.35 379.15h7.26M465.60 383.15V385.52M461.97 383.15h7.26M461.97 385.52h7.26M480.22 389.67V389.97M476.59 389.67h7.26M476.59 389.97h7.26M494.84 392.78V393.08M491.21 392.78h7.26M491.21 393.08h7.26M509.47 394.71V395.01M505.84 394.71h7.26M505.84 395.01h7.26M524.09 397.53V397.82M520.46 397.53h7.26M520.46 397.82h7.26M538.71 397.67V397.97M535.08 397.67h7.26M535.08 397.97h7.26M553.33 399.30V399.60M549.70 399.30h7.26M549.70 399.60h7.26M567.95 400.79V401.08M564.32 400.79h7.26M564.32 401.08h7.26M582.58 401.08V401.38M578.95 401.08h7.26M578.95 401.38h7.26M597.20 402.12V402.42M593.57 402.12h7.26M593.57 402.42h7.26M611.82 402.42V402.71M608.19 402.42h7.26M608.19 402.71h7.26M626.44 403.75V404.05M622.81 403.75h7.26M622.81 404.05h7.26M641.06 403.75V404.05M637.43 403.75h7.26M637.43 404.05h7.26M655.68 405.09V405.38M652.05 405.09h7.26M652.05 405.38h7.26M670.31 405.09V405.38M666.68 405.09h7.26M666.68 405.38h7.26M684.93 406.27V406.57M681.30 406.27h7.26M681.30 406.57h7.26M699.55 406.42V406.72M695.92 406.42h7.26M695.92 406.72h7.26M714.17 408.20V408.50M710.54 408.20h7.26M710.54 408.50h7.26M728.79 409.09V409.38M725.16 409.09h7.26M725.16 409.38h7.26M743.41 410.13V410.42M739.78 410.13h7.26M739.78 410.42h7.26M758.04 410.27V410.57M754.41 410.27h7.26M754.41 410.57h7.26M772.66 411.61V411.90M769.03 411.61h7.26M769.03 411.90h7.26M787.28 412.35V412.65M783.65 412.35h7.26M783.65 412.65h7.26" fill="none" stroke="#ff00ff" stroke-width="0.9" stroke-dasharray="1.15 1.73"/>
<path d="M125.67 346.61H132.93V353.87H125.67ZM129.00 350.24h0.6" fill="none" stroke="#ff00ff" stroke-width="0.9"/>
<path d="M140.29 348.24H147.55V355.50H140.29ZM143.62 351.87h0.6" fill="none" stroke="#ff00ff" stroke-width="0.9"/>
<path d="M154.91 351.50H162.17V358.76H154.91ZM158.24 355.13h0.6" fill="none" stroke="#ff00ff" stroke-width="0.9"/>
<path d="M169.54 352.54H176.80V359.80H169.54ZM172.87 356.17h0.6" fill="none" stroke="#ff00ff" stroke-width="0.9"/>
<path d="M184.16 351.50H191.42V358.76H184.16ZM187.49 355.13h0.6" fill="none" stroke="#ff00ff" stroke-width="0.9"/>
<path d="M198.78 350.02H206.04V357.28H198.78ZM202.11 353.65h0.6" fill="none" stroke="#ff00ff" stroke-width="0.9"/>
<path d="M213.40 348.24H220.66V355.50H213.40ZM216.73 351.87h0.6" fill="none" stroke="#ff00ff" stroke-width="0.9"/>
<path d="M228.02 344.24H235.28V351.50H228.02ZM231.35 347.87h0.6" fill="none" stroke="#ff00ff" stroke-width="0.9"/>
<path d="M242.64 340.39H249.90V347.65H242.64ZM245.97 344.02h0.6" fill="none" stroke="#ff00ff" stroke-width="0.9"/>
<path d="M257.27 333.57H264.53V340.83H257.27ZM260.60 337.20h0.6" fill="none" stroke="#ff00ff" stroke-width="0.9"/>
<path d="M271.89 325.71H279.15V332.97H271.89ZM275.22 329.34h0.6" fill="none" stroke="#ff00ff" stroke-width="0.9"/>
<path d="M286.51 314.00H293.77V321.26H286.51ZM289.84 317.63h0.6" fill="none" stroke="#ff00ff" stroke-width="0.9"/>
<path d="M301.13 294.43H308.39V301.69H301.13ZM304.46 298.06h0.6" fill="none" stroke="#ff00ff" stroke-width="0.9"/>
<path d="M315.75 251.74H323.01V259.00H315.75ZM319.08 255.37h0.6" fill="none" stroke="#ff00ff" stroke-width="0.9"/>
<path d="M330.37 177.78H337.63V185.04H330.37ZM333.70 181.41h0.6" fill="none" stroke="#ff00ff" stroke-width="0.9"/>
<path d="M345.00 85.73H352.26V92.99H345.00ZM348.33 89.36h0.6" fill="none" stroke="#ff00ff" stroke-width="0.9"/>
<path d="M359.62 59.19H366.88V66.45H359.62ZM362.95 62.82h0.6" fill="none" stroke="#ff00ff" stroke-width="0.9"/>
<path d="M374.24 129.31H381.50V136.57H374.24ZM377.57 132.94h0.6" fill="none" stroke="#ff00ff" stroke-width="0.9"/>
<path d="M388.86 224.02H396.12V231.28H388.86ZM392.19 227.65h0.6" fill="none" stroke="#ff00ff" stroke-width="0.9"/>
<path d="M403.48 293.25H410.74V300.51H403.48ZM406.81 296.88h0.6" fill="none" stroke="#ff00ff" stroke-width="0.9"/>
<path d="M418.11 336.38H425.37V343.64H418.11ZM421.44 340.01h0.6" fill="none" stroke="#ff00ff" stroke-width="0.9"/>
<path d="M432.73 360.10H439.99V367.36H432.73ZM436.06 363.73h0.6" fill="none" stroke="#ff00ff" stroke-width="0.9"/>
<path d="M447.35 374.03H454.61V381.29H447.35ZM450.68 377.66h0.6" fill="none" stroke="#ff00ff" stroke-width="0.9"/>
<path d="M461.97 380.70H469.23V387.96H461.97ZM465.30 384.33h0.6" fill="none" stroke="#ff00ff" stroke-width="0.9"/>
<path d="M476.59 386.19H483.85V393.45H476.59ZM479.92 389.82h0.6" fill="none" stroke="#ff00ff" stroke-width="0.9"/>
<path d="M491.21 389.30H498.47V396.56H491.21ZM494.54 392.93h0.6" fill="none" stroke="#ff00ff" stroke-width="0.9"/>
<path d="M505.84 391.23H513.10V398.49H505.84ZM509.17 394.86h0.6" fill="none" stroke="#ff00ff" stroke-width="0.9"/>
<path d="M520.46 394.04H527.72V401.30H520.46ZM523.79 397.67h0.6" fill="none" stroke="#ff00ff" stroke-width="0.9"/>
<path d="M535.08 394.19H542.34V401.45H535.08ZM538.41 397.82h0.6" fill="none" stroke="#ff00ff" stroke-width="0.9"/>
<path d="M549.70 395.82H556.96V403.08H549.70ZM553.03 399.45h0.6" fill="none" stroke="#ff00ff" stroke-width="0.9"/>
<path d="M564.32 397.31H571.58V404.57H564.32ZM567.65 400.94h0.6" fill="none" stroke="#ff00ff" stroke-width="0.9"/>
<path d="M578.95 397.60H586.21V404.86H578.95ZM582.28 401.23h0.6" fill="none" stroke="#ff00ff" stroke-width="0.9"/>
<path d="M593.57 398.64H600.83V405.90H593.57ZM596.90 402.27h0.6" fill="none" stroke="#ff00ff" stroke-width="0.9"/>
<path d="M608.19 398.94H615.45V406.20H608.19ZM611.52 402.57h0.6" fill="none" stroke="#ff00ff" stroke-width="0.9"/>
<path d="M622.81 400.27H630.07V407.53H622.81ZM626.14 403.90h0.6" fill="none" stroke="#ff00ff" stroke-width="0.9"/>
<path d="M637.43 400.27H644.69V407.53H637.43ZM640.76 403.90h0.6" fill="none" stroke="#ff00ff" stroke-width="0.9"/>
<path d="M652.05 401.60H659.31V408.86H652.05ZM655.38 405.23h0.6" fill="none" stroke="#ff00ff" stroke-width="0.9"/>
<path d="M666.68 401.60H673.94V408.86H666.68ZM670.01 405.23h0.6" fill="none" stroke="#ff00ff" stroke-width="0.9"/>
<path d="M681.30 402.79H688.56V410.05H681.30ZM684.63 406.42h0.6" fill="none" stroke="#ff00ff" stroke-width="0.9"/>
<path d="M695.92 402.94H703.18V410.20H695.92ZM699.25 406.57h0.6" fill="none" stroke="#ff00ff" stroke-width="0.9"/>
<path d="M710.54 404.72H717.80V411.98H710.54ZM713.87 408.35h0.6" fill="none" stroke="#ff00ff" stroke-width="0.9"/>
<path d="M725.16 405.61H732.42V412.87H725.16ZM728.49 409.24h0.6" fill="none" stroke="#ff00ff" stroke-width="0.9"/>
<path d="M739.78 406.64H747.04V413.90H739.78ZM743.11 410.27h0.6" fill="none" stroke="#ff00ff" stroke-width="0.9"/>
<path d="M754.41 406.79H761.67V414.05H754.41ZM757.74 410.42h0.6" fill="none" stroke="#ff00ff" stroke-width="0.9"/>
<path d="M769.03 408.13H776.29V415.39H769.03ZM772.36 411.76h0.6" fill="none" stroke="#ff00ff" stroke-width="0.9"/>
<path d="M783.65 408.87H790.91V416.13H783.65ZM786.98 412.50h0.6" fill="none" stroke="#ff00ff" stroke-width="0.9"/>
</g>
<g>
<polyline points="129.30,369.66 143.92,370.84 158.54,368.32 173.17,363.73 187.79,359.13 202.41,353.65 217.03,347.87 231.65,341.50 246.27,337.20 260.90,329.64 275.52,320.74 290.14,308.88 304.76,292.43 319.38,267.53 334.00,224.99 348.63,171.03 363.25,136.94 377.87,153.84 392.49,210.90 407.11,271.68 421.74,318.96 436.36,350.54 450.98,371.44 465.60,384.33 480.22,393.67 494.84,399.45 509.47,405.23 524.09,408.35 538.71,411.31 553.33,414.42 567.95,415.91 582.58,417.24 597.20,418.87 611.82,419.91 626.44,421.54 641.06,422.87 655.68,424.65 670.31,424.80 684.93,425.84 699.55,426.13 714.17,427.47 728.79,427.47 743.41,427.62 758.04,428.65 772.66,428.80 787.28,428.80" fill="none" stroke="#00ffff" stroke-width="0.9" stroke-dasharray="5.77 2.31 1.15 2.31"/>
<path d="M129.30 368.18V371.14M125.67 368.18h7.26M125.67 371.14h7.26M143.92 369.36V372.33M140.29 369.36h7.26M140.29 372.33h7.26M158.54 366.84V369.81M154.91 366.84h7.26M154.91 369.81h7.26M173.17 362.25V365.21M169.54 362.25h7.26M169.54 365.21h7.26M187.79 357.65V360.62M184.16 357.65h7.26M184.16 360.62h7.26M202.41 352.17V355.13M198.78 352.17h7.26M198.78 355.13h7.26M217.03 346.39V349.35M213.40 346.39h7.26M213.40 349.35h7.26M231.65 340.01V342.98M228.02 340.01h7.26M228.02 342.98h7.26M246.27 335.71V338.68M242.64 335.71h7.26M242.64 338.68h7.26M260.90 328.15V331.12M257.27 328.15h7.26M257.27 331.12h7.26M275.52 319.26V322.23M271.89 319.26h7.26M271.89 322.23h7.26M290.14 307.11V310.66M286.51 307.11h7.26M286.51 310.66h7.26M304.76 290.21V294.65M301.13 290.21h7.26M301.13 294.65h7.26M319.38 264.56V270.49M315.75 264.56h7.26M315.75 270.49h7.26M334.00 218.46V231.51M330.37 218.46h7.26M330.37 231.51h7.26M348.63 163.62V178.44M345.00 163.62h7.26M345.00 178.44h7.26M363.25 131.75V142.13M359.62 131.75h7.26M359.62 142.13h7.26M377.87 150.13V157.54M374.24 150.13h7.26M374.24 157.54h7.26M392.49 207.94V213.87M388.86 207.94h7.26M388.86 213.87h7.26M407.11 269.46V273.90M403.48 269.46h7.26M403.48 273.90h7.26M421.74 317.19V320.74M418.11 317.19h7.26M418.11 320.74h7.26M436.36 349.05V352.02M432.73 349.05h7.26M432.73 352.02h7.26M450.98 370.25V372.62M447.35 370.25h7.26M447.35 372.62h7.26M465.60 384.04V384.63M461.97 384.04h7.26M461.97 384.63h7.26M480.22 393.38V393.97M476.59 393.38h7.26M476.59 393.97h7.26M494.84 399.16V399.75M491.21 399.16h7.26M491.21 399.75h7.26M509.47 404.94V405.53M505.84 404.94h7.26M505.84 405.53h7.26M524.09 408.05V408.64M520.46 408.05h7.26M520.46 408.64h7.26M538.71 411.02V411.61M535.08 411.02h7.26M535.08 411.61h7.26M553.33 414.13V414.72M549.70 414.13h7.26M549.70 414.72h7.26M567.95 415.61V416.20M564.32 415.61h7.26M564.32 416.20h7.26M582.58 416.94V417.54M578.95 416.94h7.26M578.95 417.54h7.26M597.20 418.57V419.17M593.57 418.57h7.26M593.57 419.17h7.26M611.82 419.61V420.21M608.19 419.61h7.26M608.19 420.21h7.26M626.44 421.24V421.84M622.81 421.24h7.26M622.81 421.84h7.26M641.06 422.58V423.17M637.43 422.58h7.26M637.43 423.17h7.26M655.68 424.36V424.95M652.05 424.36h7.26M652.05 424.95h7.26M670.31 424.50V425.10M666.68 424.50h7.26M666.68 425.10h7.26M684.93 425.54V426.13M681.30 425.54h7.26M681.30 426.13h7.26M699.55 425.84V426.43M695.92 425.84h7.26M695.92 426.43h7.26M714.17 427.17V427.77M710.54 427.17h7.26M710.54 427.77h7.26M728.79 427.17V427.77M725.16 427.17h7.26M725.16 427.77h7.26M743.41 427.32V427.91M739.78 427.32h7.26M739.78 427.91h7.26M758.04 428.36V428.95M754.41 428.36h7.26M754.41 428.95h7.26M772.66 428.51V429.10M769.03 428.51h7.26M769.03 429.10h7.26M787.28 428.51V429.10M783.65 428.51h7.26M783.65 429.10h7.26" fill="none" stroke="#00ffff" stroke-width="0.9" stroke-dasharray="5.77 2.31 1.15 2.31"/>
<rect x="125.67" y="366.03" width="7.26" height="7.26" fill="#00ffff"/>
<rect x="140.29" y="367.21" width="7.26" height="7.26" fill="#00ffff"/>
<rect x="154.91" y="364.69" width="7.26" height="7.26" fill="#00ffff"/>
<rect x="169.54" y="360.10" width="7.26" height="7.26" fill="#00ffff"/>
<rect x="184.16" y="355.50" width="7.26" height="7.26" fill="#00ffff"/>
<rect x="198.78" y="350.02" width="7.26" height="7.26" fill="#00ffff"/>
<rect x="213.40" y="344.24" width="7.26" height="7.26" fill="#00ffff"/>
<rect x="228.02" y="337.87" width="7.26" height="7.26" fill="#00ffff"/>
<rect x="242.64" y="333.57" width="7.26" height="7.26" fill="#00ffff"/>
<rect x="257.27" y="326.01" width="7.26" height="7.26" fill="#00ffff"/>
<rect x="271.89" y="317.11" width="7.26" height="7.26" fill="#00ffff"/>
<rect x="286.51" y="305.25" width="7.26" height="7.26" fill="#00ffff"/>
<rect x="301.13" y="288.80" width="7.26" height="7.26" fill="#00ffff"/>
<rect x="315.75" y="263.90" width="7.26" height="7.26" fill="#00ffff"/>
<rect x="330.37" y="221.36" width="7.26" height="7.26" fill="#00ffff"/>
<rect x="345.00" y="167.40" width="7.26" height="7.26" fill="#00ffff"/>
<rect x="359.62" y="133.31" width="7.26" height="7.26" fill="#00ffff"/>
<rect x="374.24" y="150.21" width="7.26" height="7.26" fill="#00ffff"/>
<rect x="388.86" y="207.27" width="7.26" height="7.26" fill="#00ffff"/>
<rect x="403.48" y="268.05" width="7.26" height="7.26" fill="#00ffff"/>
<rect x="418.11" y="315.33" width="7.26" height="7.26" fill="#00ffff"/>
<rect x="432.73" y="346.91" width="7.26" height="7.26" fill="#00ffff"/>
<rect x="447.35" y="367.81" width="7.26" height="7.26" fill="#00ffff"/>
<rect x="461.97" y="380.70" width="7.26" height="7.26" fill="#00ffff"/>
<rect x="476.59" y="390.04" width="7.26" height="7.26" fill="#00ffff"/>
<rect x="491.21" y="395.82" width="7.26" height="7.26" fill="#00ffff"/>
<rect x="505.84" y="401.60" width="7.26" height="7.26" fill="#00ffff"/>
<rect x="520.46" y="404.72" width="7.26" height="7.26" fill="#00ffff"/>
<rect x="535.08" y="407.68" width="7.26" height="7.26" fill="#00ffff"/>
<rect x="549.70" y="410.79" width="7.26" height="7.26" fill="#00ffff"/>
<rect x="564.32" y="412.28" width="7.26" height="7.26" fill="#00ffff"/>
<rect x="578.95" y="413.61" width="7.26" height="7.26" fill="#00ffff"/>
<rect x="593.57" y="415.24" width="7.26" height="7.26" fill="#00ffff"/>
<rect x="608.19" y="416.28" width="7.26" height="7.26" fill="#00ffff"/>
<rect x="622.81" y="417.91" width="7.26" height="7.26" fill="#00ffff"/>
<rect x="637.43" y="419.24" width="7.26" height="7.26" fill="#00ffff"/>
<rect x="652.05" y="421.02" width="7.26" height="7.26" fill="#00ffff"/>
<rect x="666.68" y="421.17" width="7.26" height="7.26" fill="#00ffff"/>
<rect x="681.30" y="422.21" width="7.26" height="7.26" fill="#00ffff"/>
<rect x="695.92" y="422.50" width="7.26" height="7.26" fill="#00ffff"/>
<rect x="710.54" y="423.84" width="7.26" height="7.26" fill="#00ffff"/>
<rect x="725.16" y="423.84" width="7.26" height="7.26" fill="#00ffff"/>
<rect x="739.78" y="423.99" width="7.26" height="7.26" fill="#00ffff"/>
<rect x="754.41" y="425.02" width="7.26" height="7.26" fill="#00ffff"/>
<rect x="769.03" y="425.17" width="7.26" height="7.26" fill="#00ffff"/>
<rect x="783.65" y="425.17" width="7.26" height="7.26" fill="#00ffff"/>
</g>
<rect x="129.3" y="30.3" width="657.98" height="474.55" stroke="#000" stroke-width="1.45" fill="none"/>
</svg>
</body></html>
